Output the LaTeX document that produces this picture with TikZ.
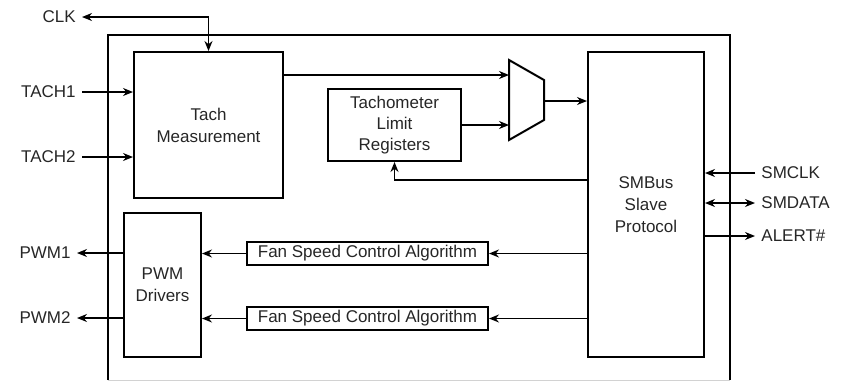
\documentclass[tikz,border=0pt]{standalone}
\usepackage{fontspec}
\setmainfont{Liberation Sans}
\usepackage{tikz}
\usetikzlibrary{arrows.meta, positioning}
\tikzstyle{block} = [
    draw,
    line width=1pt,
    align=center,
    inner sep=0pt
]
\tikzstyle{arrow} = [
    line width=0.75pt,
    -{Stealth[length=5pt,width=4pt]}
]
\tikzstyle{biarrow} = [
    line width=0.75pt,
    {Stealth[length=5pt,width=4pt]}-{Stealth[length=5pt,width=4pt]}
]
\tikzstyle{sig} = [
    inner sep=3pt
]

\begin{document}
\begin{tikzpicture}[x=0.5pt,y=-0.5pt,font=\fontsize{8.5}{11}\selectfont,text=black!85]
\useasboundingbox (0,0) rectangle (851,381);

% chip outline
\draw[line width=1pt] (108,380) -- (108,35) -- (730,35) -- (730,380);
\draw[gray!35] (108,380) -- (730,380);

% blocks
\node[block, minimum width=74.5pt, minimum height=73pt] (tach) at (208.5,125)
{Tach\\Measurement};

\node[block, minimum width=66.5pt, minimum height=36pt,
  font=\fontsize{8.5}{10.5}\selectfont] (limreg) at (394.5,125)
{Tachometer\\Limit\\Registers};

\node[block, minimum width=58pt, minimum height=152.5pt] (smbus) at (646,204.5)
{SMBus\\Slave\\Protocol};

\node[block, minimum width=38.5pt, minimum height=72pt] (pwmdrv) at (162.5,285)
{PWM\\Drivers};

\node[block, minimum width=120.5pt, minimum height=11.5pt] (fsca1) at (367.5,253.5)
{Fan Speed Control Algorithm};

\node[block, minimum width=120.5pt, minimum height=11.5pt] (fsca2) at (367.5,318.5)
{Fan Speed Control Algorithm};

% mux
\draw[line width=1pt] (509,60) -- (544,80) -- (544,120) -- (509,140) -- cycle;
\coordinate (muxin1) at (509,75);
\coordinate (muxin2) at (509,125);
\coordinate (muxout) at (544,101);

% pins
\node[sig, anchor=east] (clk) at (82,17) {CLK};
\node[sig, anchor=east] (tach1) at (82,92) {TACH1};
\node[sig, anchor=east] (tach2) at (82,157) {TACH2};
\node[sig, anchor=east] (pwm1) at (77,253) {PWM1};
\node[sig, anchor=east] (pwm2) at (77,318) {PWM2};
\node[sig, anchor=west] (smclk) at (755,173) {SMCLK};
\node[sig, anchor=west] (smdata) at (755,203) {SMDATA};
\node[sig, anchor=west] (alert) at (755,236) {ALERT\#};

% connections
\draw[biarrow] (clk.east) -| (tach.north);
\draw[arrow] (tach1.east) -- (tach1.east -| tach.west);
\draw[arrow] (tach2.east) -- (tach2.east -| tach.west);

\draw[arrow] (tach.east |- muxin1) -- (muxin1);
\draw[arrow] (limreg.east) -- (muxin2);
\draw[arrow] (muxout) -- (muxout -| smbus.west);

\coordinate (fb) at (588,180);
\draw[arrow] (fb) -| (limreg.south);

\draw[arrow] (smclk.west) -- (smclk.west -| smbus.east);
\draw[biarrow] (smdata.west -| smbus.east) -- (smdata.west);
\draw[arrow] (alert.west -| smbus.east) -- (alert.west);

\draw[arrow] (fsca1.east -| smbus.west) -- (fsca1.east);
\draw[arrow] (fsca2.east -| smbus.west) -- (fsca2.east);
\draw[arrow] (fsca1.west) -- (fsca1.west -| pwmdrv.east);
\draw[arrow] (fsca2.west) -- (fsca2.west -| pwmdrv.east);

\draw[arrow] (pwmdrv.west |- pwm1.east) -- (pwm1.east);
\draw[arrow] (pwmdrv.west |- pwm2.east) -- (pwm2.east);

\end{tikzpicture}
\end{document}
